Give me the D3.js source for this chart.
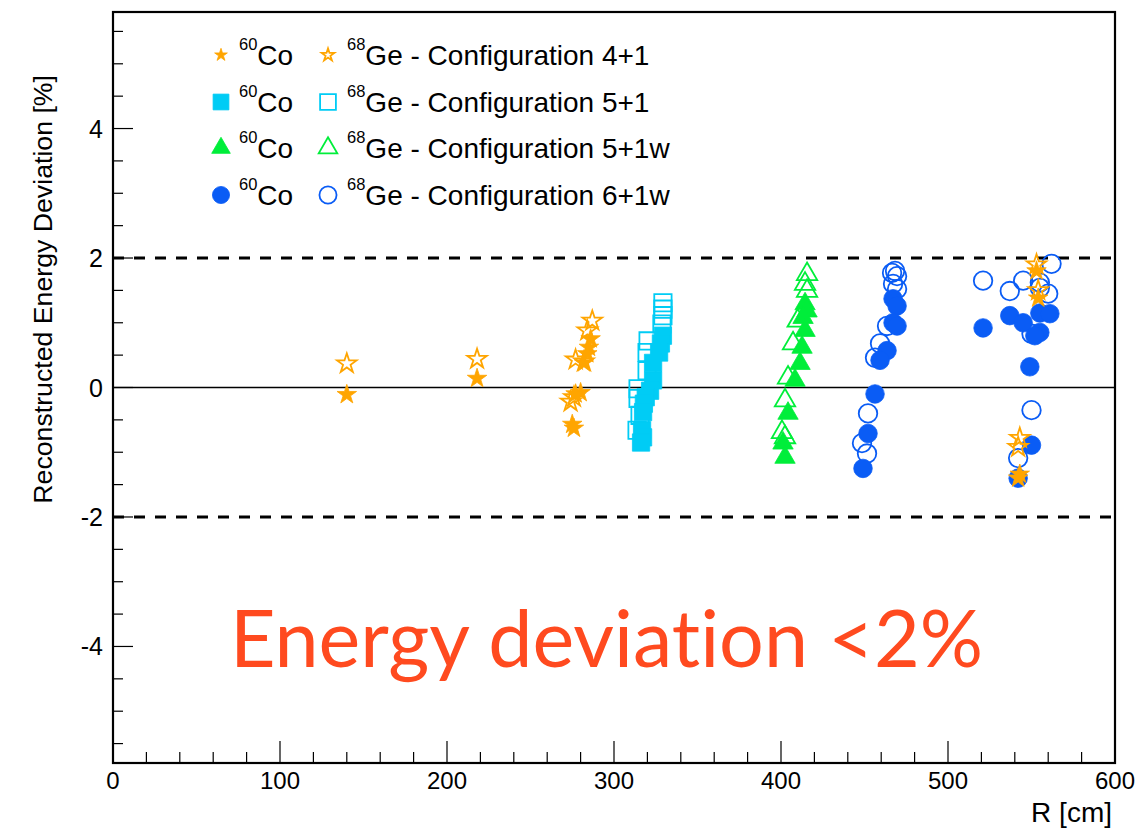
<!DOCTYPE html>
<html>
<head>
<meta charset="utf-8">
<script src="https://cdn.jsdelivr.net/npm/d3@7"></script>
<style>
  body { margin: 0; background: #fff; }
  text { font-family: "Liberation Sans", Arial, Helvetica, sans-serif; }
</style>
</head>
<body>
<svg id="chart" width="1139" height="828"></svg>
<script>
// Axis ticks
const rTicks = [0, 100, 200, 300, 400, 500, 600];
const devTicks = [-4, -2, 0, 2, 4];
const limitLines = [-2, 2];

// [R (cm), deviation (%)] per source and calibration configuration
const co41 = [[140, -0.11], [218, 0.14], [286, 0.75], [285, 0.62], [284, 0.52], [282, 0.38],
  [280, -0.08], [277, -0.10], [275, -0.57], [276, -0.63], [553, 1.80], [554, 1.38], [542, -1.40], [543, -1.34]];
const ge41 = [[140, 0.37], [218, 0.44], [287, 1.03], [284, 0.88], [277, 0.43], [282, 0.40],
  [274, -0.22], [276, -0.15], [553, 1.90], [554, 1.50], [543, -0.78], [542, -0.92]];

const co51 = [[329.3, 0.80], [328.1, 0.68], [327, 0.54], [323.4, 0.38], [323.4, 0.11], [321.6, -0.05],
  [319, -0.15], [317.9, -0.25], [317.4, -0.38], [316.8, -0.66], [317.4, -0.77], [316.2, -0.85]];
const ge51 = [[329.3, 1.31], [329.3, 1.21], [329.3, 1.11], [328.7, 0.98], [320.4, 0.72], [319.8, 0.54],
  [319.8, 0.26], [314.4, -0.02], [314.4, -0.17], [315.6, -0.43], [313.8, -0.66]];

const co51w = [[414.4, 1.29], [415.6, 1.18], [413.2, 1.08], [414.4, 0.88], [412.6, 0.62], [411.4, 0.37],
  [408.4, 0.11], [404.2, -0.40], [401.2, -0.86], [402.4, -1.08]];
const ge51w = [[415.6, 1.75], [414.4, 1.60], [415.6, 1.49], [410, 1.03], [407.2, 0.68], [404.2, 0.15],
  [402.4, -0.20], [400.6, -0.69], [402.4, -0.77]];

const co61w = [[467.1, 1.37], [469.5, 1.26], [467.1, 1.00], [469.5, 0.95], [463.5, 0.57], [459.3, 0.42],
  [456.3, -0.10], [452.1, -0.71], [449.1, -1.25],
  [521, 0.92], [537, 1.11], [545, 1.00], [555, 1.15], [561, 1.14], [555, 0.85], [552, 0.80],
  [549, 0.32], [550, -0.89], [542, -1.40]];
const ge61w = [[466.5, 1.77], [468.3, 1.80], [469.5, 1.72], [467.1, 1.60], [469.5, 1.52], [463.5, 0.95],
  [459.3, 0.68], [456.3, 0.46], [452.1, -0.40], [448.5, -0.86], [451.5, -1.02],
  [521, 1.65], [537, 1.49], [545, 1.65], [555, 1.62], [560, 1.45], [562, 1.91], [550, 0.83],
  [550, -0.35], [542, -1.09], [555, 1.54]];

const legendLabels = ["Configuration 4+1", "Configuration 5+1", "Configuration 5+1w", "Configuration 6+1w"];

const orange = "#ffa500", cyan = "#00ccf5", green = "#00ee3a", blue = "#0a5cf5";

const svg = d3.select("#chart");
const plotLeft = 113, plotRight = 1115, plotTop = 12, plotBottom = 763;

const x = d3.scaleLinear().domain([0, 600]).range([plotLeft, plotRight]);
const y = d3.scaleLinear().domain([-5.8, 5.8]).range([plotBottom, plotTop]);

// X axis: major every 100, minor every 20
const gx = svg.append("g");
gx.selectAll("line").data(d3.range(0, 601, 20)).join("line")
  .attr("x1", d => x(d)).attr("x2", d => x(d))
  .attr("y1", plotBottom).attr("y2", d => plotBottom - (d % 100 === 0 ? 22 : 11))
  .attr("stroke", "#000").attr("stroke-width", 1.2);
gx.selectAll("text").data(rTicks).join("text")
  .attr("x", d => x(d)).attr("y", 789)
  .attr("text-anchor", "middle").attr("font-size", 24).text(d => d);

// Y axis: major every 2, minor every 0.5
const gy = svg.append("g");
const yMinor = d3.range(-11, 12).map(k => k * 0.5);
gy.selectAll("line").data(yMinor).join("line")
  .attr("x1", plotLeft).attr("x2", d => plotLeft + (Math.abs(d % 2) < 1e-9 ? 20 : 10))
  .attr("y1", d => y(d)).attr("y2", d => y(d))
  .attr("stroke", "#000").attr("stroke-width", 1.2);
gy.selectAll("text").data(devTicks).join("text")
  .attr("x", 103).attr("y", d => y(d) + 9)
  .attr("text-anchor", "end").attr("font-size", 25).text(d => d);

// Reference lines
svg.append("line").attr("x1", plotLeft).attr("x2", plotRight).attr("y1", y(0)).attr("y2", y(0))
  .attr("stroke", "#000").attr("stroke-width", 1.6);
svg.selectAll(".limit").data(limitLines).join("line").attr("class", "limit")
  .attr("x1", plotLeft).attr("x2", plotRight).attr("y1", d => y(d)).attr("y2", d => y(d))
  .attr("stroke", "#000").attr("stroke-width", 3).attr("stroke-dasharray", "11 10");

// Frame
svg.append("rect").attr("x", plotLeft).attr("y", plotTop)
  .attr("width", plotRight - plotLeft).attr("height", plotBottom - plotTop)
  .attr("fill", "none").attr("stroke", "#000").attr("stroke-width", 2.2);

// Axis titles
svg.append("text").attr("x", 1112).attr("y", 822).attr("text-anchor", "end")
  .attr("font-size", 28).text("R [cm]");
svg.append("text").attr("transform", "translate(52,75) rotate(-90)").attr("text-anchor", "end")
  .attr("font-size", 26.7).text("Reconstructed Energy Deviation [%]");

// Marker definitions
const markers = {
  star: { type: d3.symbolStar, size: 118, legSize: 50 },
  square: { type: d3.symbolSquare, size: 300, legSize: 250 },
  triangle: { type: d3.symbolTriangle, size: 180, legSize: 150 },
  circle: { type: d3.symbolCircle, size: 270, legSize: 230 }
};

function drawSeries(data, m, color, filled) {
  const sym = d3.symbol().type(markers[m].type).size(markers[m].size);
  svg.append("g").selectAll("path").data(data).join("path")
    .attr("transform", d => `translate(${x(d[0])},${y(d[1])})`)
    .attr("d", sym)
    .attr("fill", filled ? color : "none")
    .attr("stroke", color)
    .attr("stroke-width", filled ? 0.8 : 1.8);
}

drawSeries(ge61w, "circle", blue, false);
drawSeries(co61w, "circle", blue, true);
drawSeries(ge51w, "triangle", green, false);
drawSeries(co51w, "triangle", green, true);
drawSeries(ge51, "square", cyan, false);
drawSeries(co51, "square", cyan, true);
drawSeries(ge41, "star", orange, false);
drawSeries(co41, "star", orange, true);

// Legend
const legendRows = [
  { m: "star", c: orange, y: 55 },
  { m: "square", c: cyan, y: 102 },
  { m: "triangle", c: green, y: 148 },
  { m: "circle", c: blue, y: 195 }
];
legendRows.forEach((row, i) => {
  const sym = d3.symbol().type(markers[row.m].type).size(markers[row.m].legSize);
  svg.append("path").attr("transform", `translate(221,${row.y})`).attr("d", sym)
    .attr("fill", row.c).attr("stroke", row.c).attr("stroke-width", 0.8);
  svg.append("path").attr("transform", `translate(328,${row.y})`).attr("d", sym)
    .attr("fill", "none").attr("stroke", row.c).attr("stroke-width", 1.8);
  const t1 = svg.append("text").attr("x", 239).attr("y", row.y + 10).attr("font-size", 28);
  t1.append("tspan").attr("font-size", 16.5).attr("dy", -15).text("60");
  t1.append("tspan").attr("dy", 15).text("Co");
  const t2 = svg.append("text").attr("x", 347).attr("y", row.y + 10).attr("font-size", 28);
  t2.append("tspan").attr("font-size", 16.5).attr("dy", -15).text("68");
  t2.append("tspan").attr("dy", 15).text("Ge - " + legendLabels[i]);
});

// Annotation
svg.append("text").attr("x", 230).attr("y", 667)
  .style("font-family", "Lato, 'Open Sans', sans-serif")
  .style("font-variant-ligatures", "none")
  .attr("font-size", 79).attr("fill", "#ff4a1f").text("Energy deviation <2%");
</script>
</body>
</html>
